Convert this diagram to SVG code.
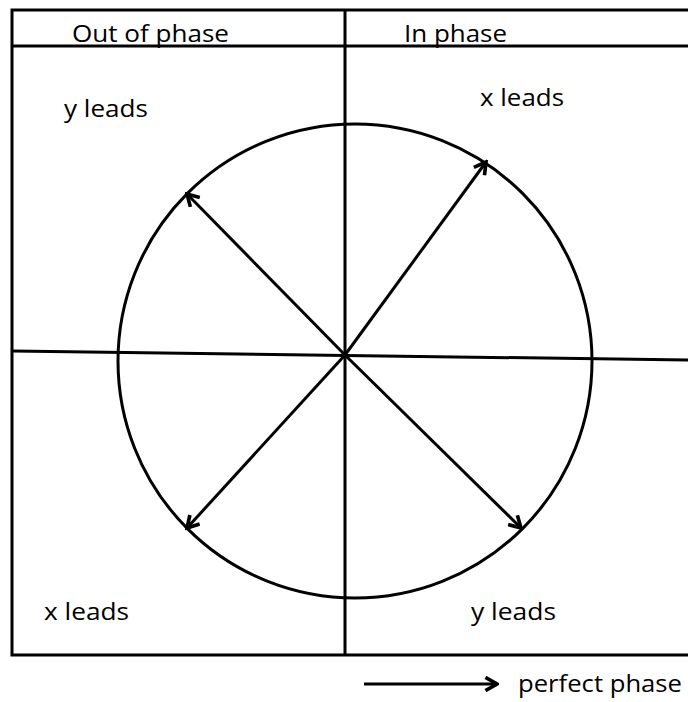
<svg xmlns="http://www.w3.org/2000/svg" width="688" height="702" viewBox="0 0 688 702">
<defs>
<style>
.ln{stroke:#000;stroke-width:3;fill:none}
.t{font-family:"Open Sans","Liberation Sans",sans-serif;font-size:24px;fill:#000}
</style>
<marker id="ah" viewBox="0 0 10 10" refX="8.5" refY="5" markerWidth="5.5" markerHeight="5.5" orient="auto" markerUnits="strokeWidth">
<path d="M1.5,1 L8.5,5 L1.5,9" fill="none" stroke="#000" stroke-width="2.2"/>
</marker>
</defs>
<rect width="688" height="702" fill="#fff"/>
<g id="frame">
<path class="ln" d="M688,10 H12 V655 H688"/>
<line class="ln" x1="12" y1="46" x2="688" y2="46"/>
<line class="ln" x1="345" y1="10" x2="345" y2="655"/>
<line class="ln" x1="13" y1="351" x2="688" y2="360"/>
</g>
<g id="circle">
<ellipse class="ln" cx="355" cy="361" rx="237" ry="237"/>
</g>
<g id="connectors">
<line class="ln" x1="345" y1="355" x2="187" y2="194" marker-end="url(#ah)"/>
<line class="ln" x1="345" y1="355" x2="486" y2="162" marker-end="url(#ah)"/>
<line class="ln" x1="345" y1="355" x2="187" y2="528" marker-end="url(#ah)"/>
<line class="ln" x1="345" y1="355" x2="521" y2="528" marker-end="url(#ah)"/>
<line class="ln" x1="364" y1="684" x2="497" y2="684" marker-end="url(#ah)"/>
</g>
<g id="labels">
<text class="t" x="72" y="42" textLength="157" lengthAdjust="spacingAndGlyphs">Out of phase</text>
<text class="t" x="404" y="42" textLength="103" lengthAdjust="spacingAndGlyphs">In phase</text>
<text class="t" x="64" y="117" textLength="84" lengthAdjust="spacingAndGlyphs">y leads</text>
<text class="t" x="480" y="106" textLength="84" lengthAdjust="spacingAndGlyphs">x leads</text>
<text class="t" x="44" y="620" textLength="85" lengthAdjust="spacingAndGlyphs">x leads</text>
<text class="t" x="471" y="620" textLength="85" lengthAdjust="spacingAndGlyphs">y leads</text>
<text class="t" x="518" y="692" textLength="164" lengthAdjust="spacingAndGlyphs">perfect phase</text>
</g>
</svg>
